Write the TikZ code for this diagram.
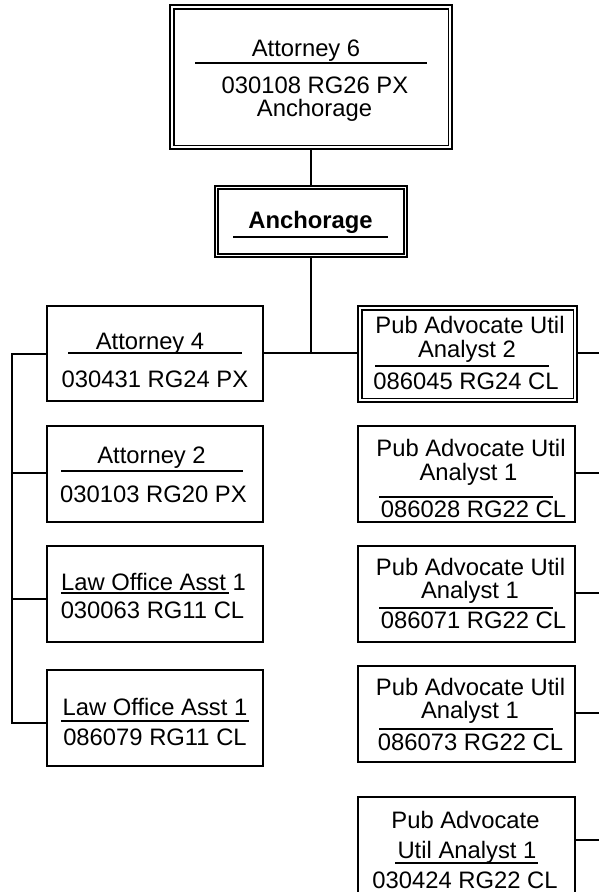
\documentclass[tikz,border=0pt]{standalone}
\usepackage{fontspec}
\setmainfont{Liberation Sans}
\begin{document}
\begin{tikzpicture}[x=1pt,y=-1pt,
  box/.style={draw, line width=1.8pt, inner sep=0pt},
  txt/.style={anchor=base, inner sep=0pt, font=\fontsize{23.8}{28}\selectfont},
  btxt/.style={txt, font=\fontsize{23.8}{28}\selectfont\bfseries},
  conn/.style={line width=1.8pt},
  uline/.style={line width=1.3pt}]
\useasboundingbox (0,0) rectangle (598,892);
% boxes
\node[box, minimum width=282pt, minimum height=144pt] (top) at (311,77) {};
\draw[box] ([shift={(4.5pt,-4.5pt)}]top.north west) rectangle ([shift={(-4.5pt,4.5pt)}]top.south east);
\node[box, minimum width=192pt, minimum height=71pt] (anch) at (311,221.5) {};
\draw[box] ([shift={(3.8pt,-3.8pt)}]anch.north west) rectangle ([shift={(-3.8pt,3.8pt)}]anch.south east);
\node[box, minimum width=216pt, minimum height=95pt] (a4) at (155,353.5) {};
\node[box, minimum width=216pt, minimum height=96pt] (a2) at (155,474) {};
\node[box, minimum width=216pt, minimum height=96pt] (lo1) at (155,594) {};
\node[box, minimum width=216pt, minimum height=96pt] (lo2) at (155,718) {};
\node[box, minimum width=219pt, minimum height=96pt] (pa2) at (467.5,354) {};
\draw[box] ([shift={(4.5pt,-4.5pt)}]pa2.north west) rectangle ([shift={(-4.5pt,4.5pt)}]pa2.south east);
\node[box, minimum width=217pt, minimum height=96pt] (pb) at (466.5,474) {};
\node[box, minimum width=217pt, minimum height=96pt] (pc) at (466.5,594) {};
\node[box, minimum width=217pt, minimum height=96pt] (pd) at (466.5,714) {};
\node[box, minimum width=217pt, minimum height=96pt] (pe) at (466.5,845) {};
% texts
\node[txt] (t1) at (306,56) {Attorney 6};
\node[txt] (t2) at (315,93) {030108 RG26 PX};
\node[txt] (t3) at (314.5,116) {Anchorage};
\draw[uline] (195,63) -- (427,63);
\node[btxt] (an1) at (310.5,228) {Anchorage};
\draw[uline] (233,237) -- (388,237);
\node[txt] (a41) at (150,349) {Attorney 4};
\node[txt] (a42) at (155,387) {030431 RG24 PX};
\draw[uline] (68,353) -- (242,353);
\node[txt] (a21) at (151.5,463) {Attorney 2};
\node[txt] (a22) at (153.5,502) {030103 RG20 PX};
\draw[uline] (61,471) -- (243,471);
\node[txt] (l11) at (153.5,590) {Law Office Asst 1};
\node[txt] (l12) at (152.5,618) {030063 RG11 CL};
\draw[uline] (61,593) -- (229,593);
\node[txt] (l21) at (155,715) {Law Office Asst 1};
\node[txt] (l22) at (155,745) {086079 RG11 CL};
\draw[uline] (61,721) -- (249,721);
\node[txt] (p21) at (470,333) {Pub Advocate Util};
\node[txt] (p22) at (467,357) {Analyst 2};
\node[txt] (p23) at (466,389) {086045 RG24 CL};
\draw[uline] (375,366) -- (549,366);
\node[txt] (pb1) at (471,456) {Pub Advocate Util};
\node[txt] (pb2) at (468.5,480) {Analyst 1};
\node[txt] (pb3) at (473.5,517) {086028 RG22 CL};
\draw[uline] (379,497) -- (553,497);
\node[txt] (pc1) at (470.5,575) {Pub Advocate Util};
\node[txt] (pc2) at (470,598) {Analyst 1};
\node[txt] (pc3) at (473.5,628) {086071 RG22 CL};
\draw[uline] (379,608) -- (553,608);
\node[txt] (pd1) at (470.5,695) {Pub Advocate Util};
\node[txt] (pd2) at (470,718) {Analyst 1};
\node[txt] (pd3) at (470.5,750) {086073 RG22 CL};
\draw[uline] (379,729) -- (553,729);
\node[txt] (pe1) at (465.5,828) {Pub Advocate};
\node[txt] (pe2) at (467,858) {Util Analyst 1};
\node[txt] (pe3) at (465,888) {030424 RG22 CL};
\draw[uline] (395,863) -- (538,863);
% connectors
\coordinate (j) at (311,353);
\draw[conn] (top.south) -- (anch.north);
\draw[conn] (anch.south) -- (j);
\draw[conn] (a4.east |- j) -- (pa2.west |- j);
\coordinate (bt) at (12,354);
\coordinate (b2) at (12,473);
\coordinate (b3) at (12,599);
\coordinate (bb) at (12,723);
\draw[conn] (a4.west |- bt) -- (bt) -- (bb) -- (lo2.west |- bb);
\draw[conn] (b2) -- (a2.west |- b2);
\draw[conn] (b3) -- (lo1.west |- b3);
\coordinate (r1) at (600,353);
\coordinate (r2) at (600,473);
\coordinate (r3) at (600,593);
\coordinate (r4) at (600,713);
\coordinate (r5) at (600,840);
\draw[conn] (pa2.east |- r1) -- (r1);
\draw[conn] (pb.east |- r2) -- (r2);
\draw[conn] (pc.east |- r3) -- (r3);
\draw[conn] (pd.east |- r4) -- (r4);
\draw[conn] (pe.east |- r5) -- (r5);
\end{tikzpicture}
\end{document}
